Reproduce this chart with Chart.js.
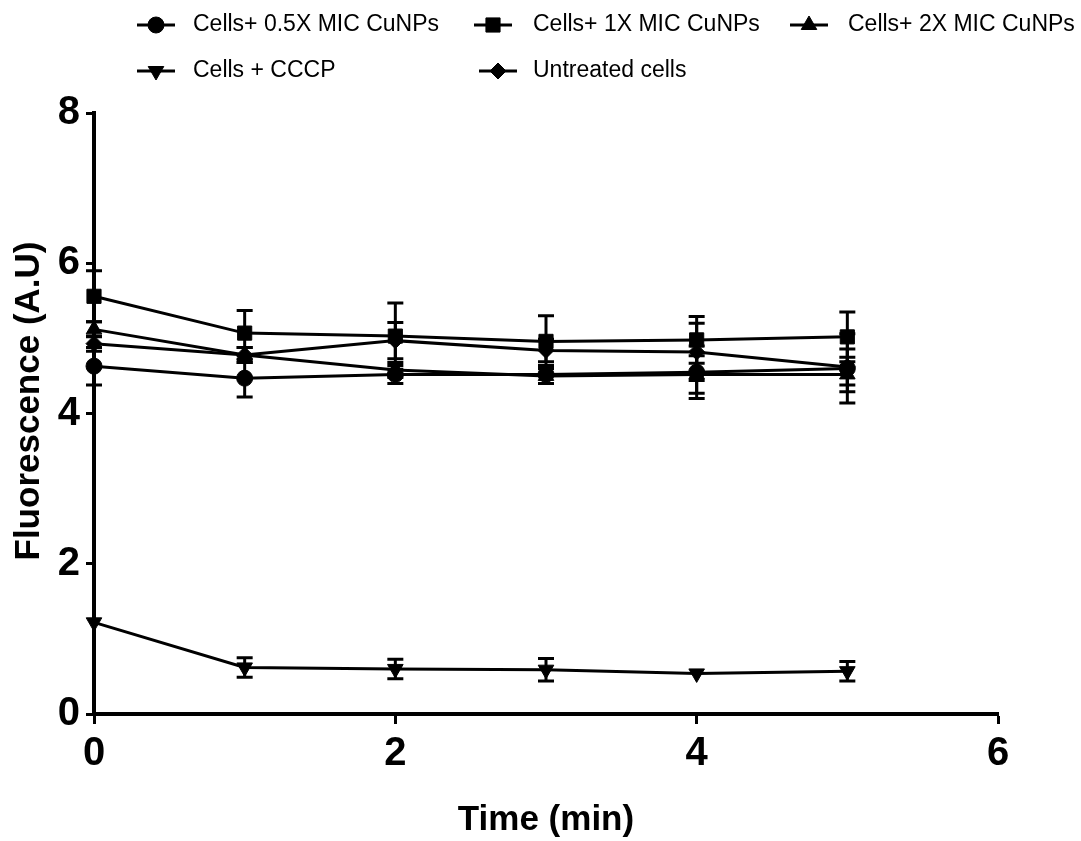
<!DOCTYPE html>
<html>
<head>
<meta charset="utf-8">
<title>Fluorescence vs time</title>
<script src="https://cdn.jsdelivr.net/npm/chart.js@4.4.1/dist/chart.umd.min.js"></script>
<style>
  html, body { margin: 0; padding: 0; background: #fff; }
  #chart { display: block; }
</style>
</head>
<body>
<canvas id="chart" width="1081" height="841"></canvas>
<script>
// time points (min)
const times = [0, 1, 2, 3, 4, 5];

// mean fluorescence (A.U) per series
const halfMic = [4.63, 4.47, 4.52, 4.52, 4.55, 4.60];
const oneMic = [5.56, 5.07, 5.03, 4.96, 4.98, 5.02];
const twoMic = [5.12, 4.78, 4.58, 4.50, 4.52, 4.52];
const cccp = [1.22, 0.62, 0.60, 0.59, 0.54, 0.57];
const untreated = [4.93, 4.78, 4.97, 4.84, 4.82, 4.62];

// error (± SD)
const halfMicErr = [0.25, 0.25, 0.12, 0.12, 0.35, 0.46];
const oneMicErr = [0.34, 0.30, 0.44, 0.34, 0.31, 0.33];
const twoMicErr = [0.10, 0.10, 0.10, 0.10, 0.25, 0.23];
const cccpErr = [0, 0.13, 0.13, 0.15, 0, 0.13];
const untreatedErr = [0.10, 0.10, 0.24, 0.15, 0.38, 0.24];

const seriesNames = [
    'Cells+ 0.5X MIC CuNPs',
    'Cells+ 1X MIC CuNPs',
    'Cells+ 2X MIC CuNPs',
    'Cells + CCCP',
    'Untreated cells'
];

const xTicks = [0, 2, 4, 6];
const yTicks = [0, 2, 4, 6, 8];
const yTitle = 'Fluorescence (A.U)';

const SANS = "'Liberation Sans', Arial, sans-serif";

function toPoints(vals) {
    return vals.map((v, i) => ({ x: times[i], y: v }));
}

function makeSet(label, vals, errs, style, radius, rotation) {
    return {
        label: label,
        data: toPoints(vals),
        errors: errs,
        borderColor: '#000',
        backgroundColor: '#000',
        borderWidth: 3,
        pointStyle: style,
        pointRadius: radius,
        pointHoverRadius: radius,
        pointRotation: rotation || 0,
        pointBorderWidth: 1,
        tension: 0,
        clip: false
    };
}

// vertical error bars with caps, drawn through the scales
const errorBars = {
    id: 'errorBars',
    afterDatasetsDraw(chart) {
        const { ctx, scales: { x, y } } = chart;
        ctx.save();
        ctx.strokeStyle = '#000';
        ctx.lineWidth = 3;
        chart.data.datasets.forEach(ds => {
            ds.data.forEach((p, j) => {
                const e = ds.errors[j];
                if (!e) return;
                const px = x.getPixelForValue(p.x);
                const top = y.getPixelForValue(p.y + e);
                const bot = y.getPixelForValue(p.y - e);
                ctx.beginPath();
                ctx.moveTo(px, top);
                ctx.lineTo(px, bot);
                ctx.moveTo(px - 8, top);
                ctx.lineTo(px + 8, top);
                ctx.moveTo(px - 8, bot);
                ctx.lineTo(px + 8, bot);
                ctx.stroke();
            });
        });
        ctx.restore();
    }
};

// two-row legend laid out like the original figure
const legendSlots = [
    { x: 137, y: 25 },
    { x: 474, y: 25 },
    { x: 790, y: 25 },
    { x: 137, y: 71 },
    { x: 479, y: 71 }
];
const legendTextX = [193, 533, 848, 193, 533];

const gridLegend = {
    id: 'gridLegend',
    afterDraw(chart) {
        const ctx = chart.ctx;
        ctx.save();
        chart.data.datasets.forEach((ds, i) => {
            const s = legendSlots[i];
            ctx.strokeStyle = '#000';
            ctx.fillStyle = '#000';
            ctx.lineWidth = 3;
            ctx.beginPath();
            ctx.moveTo(s.x, s.y);
            ctx.lineTo(s.x + 38, s.y);
            ctx.stroke();
            ctx.lineWidth = 1;
            Chart.helpers.drawPoint(ctx, {
                pointStyle: ds.pointStyle,
                rotation: ds.pointRotation,
                radius: ds.pointRadius,
                borderWidth: 1
            }, s.x + 19, s.y);
            ctx.font = '23px ' + SANS;
            ctx.textBaseline = 'middle';
            ctx.textAlign = 'left';
            ctx.fillText(ds.label, legendTextX[i], s.y);
        });
        ctx.restore();
    }
};

// rotated y-axis title, sits a little above the axis centre as in the figure
const yAxisTitle = {
    id: 'yAxisTitle',
    afterDraw(chart) {
        const ctx = chart.ctx;
        ctx.save();
        ctx.translate(29, 401);
        ctx.rotate(-Math.PI / 2);
        ctx.font = 'bold 35px ' + SANS;
        ctx.fillStyle = '#000';
        ctx.textAlign = 'center';
        ctx.textBaseline = 'middle';
        ctx.fillText(yTitle, 0, 0);
        ctx.restore();
    }
};

new Chart(document.getElementById('chart').getContext('2d'), {
    type: 'line',
    data: {
        datasets: [
            makeSet(seriesNames[0], halfMic, halfMicErr, 'circle', 8),
            makeSet(seriesNames[1], oneMic, oneMicErr, 'rect', 10),
            makeSet(seriesNames[2], twoMic, twoMicErr, 'triangle', 9),
            makeSet(seriesNames[3], cccp, cccpErr, 'triangle', 9, 180),
            makeSet(seriesNames[4], untreated, untreatedErr, 'rectRot', 8)
        ]
    },
    options: {
        responsive: false,
        animation: false,
        layout: { padding: { left: 0, right: 83, top: 113, bottom: 0 } },
        plugins: {
            legend: { display: false },
            tooltip: { enabled: false }
        },
        scales: {
            x: {
                type: 'linear',
                min: 0,
                max: 6,
                afterBuildTicks: s => { s.ticks = xTicks.map(v => ({ value: v })); },
                afterFit: s => { s.height = 127; },
                grid: { drawOnChartArea: false, drawTicks: true, tickLength: 10, tickWidth: 3, color: '#000' },
                border: { display: true, width: 4, color: '#000' },
                ticks: { color: '#000', padding: 6, maxRotation: 0, font: { family: SANS, size: 40, weight: 'bold' } },
                title: { display: true, text: 'Time (min)', color: '#000', padding: { top: 0, bottom: 0 }, font: { family: SANS, size: 35, weight: 'bold' } }
            },
            y: {
                min: 0,
                max: 8,
                afterBuildTicks: s => { s.ticks = yTicks.map(v => ({ value: v })); },
                afterFit: s => { s.width = 94; },
                grid: { drawOnChartArea: false, drawTicks: true, tickLength: 8, tickWidth: 3, color: '#000' },
                border: { display: true, width: 4, color: '#000' },
                ticks: { color: '#000', padding: 6, font: { family: SANS, size: 40, weight: 'bold' } }
            }
        }
    },
    plugins: [errorBars, gridLegend, yAxisTitle]
});
</script>
</body>
</html>
